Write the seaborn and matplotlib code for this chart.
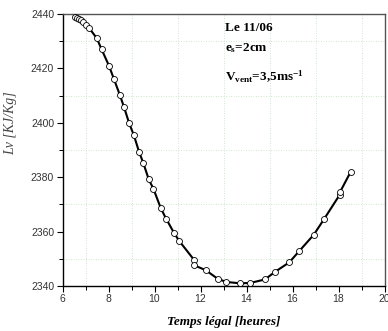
import numpy as np
import pandas as pd
import matplotlib
matplotlib.use("Agg")
import matplotlib.pyplot as plt
import seaborn as sns
from matplotlib.ticker import MultipleLocator

# Data
heures = [6.55, 6.62, 6.70, 6.79, 6.90, 7.02, 7.17, 7.49, 7.70, 8.02, 8.24, 8.49, 8.67,
          8.90, 9.10, 9.33, 9.51, 9.75, 9.95, 10.27, 10.50, 10.85, 11.08, 11.73, 11.73,
          12.23, 12.74, 13.11, 13.70, 14.15, 14.80, 15.24, 15.86, 16.30, 16.93, 17.38,
          18.05, 18.07, 18.53]
lv = [2438.9, 2438.6, 2438.2, 2437.7, 2436.9, 2436.0, 2434.7, 2431.1, 2427.0, 2421.0,
      2416.0, 2410.3, 2405.9, 2399.8, 2395.5, 2389.3, 2385.3, 2379.2, 2375.8, 2368.7,
      2364.8, 2359.5, 2356.5, 2349.5, 2347.6, 2345.8, 2342.7, 2341.5, 2341.0, 2341.1,
      2342.4, 2345.2, 2348.7, 2352.9, 2358.9, 2364.7, 2373.5, 2374.6, 2382.0]
x_ticks = [6, 8, 10, 12, 14, 16, 18, 20]
y_ticks = [2340, 2360, 2380, 2400, 2420, 2440]

df = pd.DataFrame({"heures": heures, "lv": lv})

sns.set_style("white")
plt.rcParams["mathtext.fontset"] = "custom"
plt.rcParams["mathtext.rm"] = "Liberation Serif:bold"
plt.rcParams["mathtext.bf"] = "Liberation Serif:bold"
plt.rcParams["mathtext.it"] = "Liberation Serif:bold"

fig = plt.figure(figsize=(3.88, 3.31), dpi=100)
ax = fig.add_axes([62.5/388, 1-286/331, 322/388, 272/331])

sns.lineplot(data=df, x="heures", y="lv", ax=ax, estimator=None, sort=False,
             color="black", lw=1.5, marker="o", markersize=4.3,
             markerfacecolor="white", markeredgecolor="black", markeredgewidth=0.6,
             zorder=3)

ax.set_xlim(6, 20)
ax.set_ylim(2340, 2440)
ax.set_xticks(x_ticks)
ax.set_yticks(y_ticks)
ax.xaxis.set_minor_locator(MultipleLocator(1))
ax.yaxis.set_minor_locator(MultipleLocator(10))
ax.grid(False)
ax.grid(which="minor", color="#c6e6c6", linestyle=(0, (1.2, 1.8)), lw=0.6)

ax.tick_params(which="major", direction="out", length=4, width=0.8, color="black",
               labelsize=7.5, labelcolor="#333333", pad=2,
               bottom=True, left=True, top=False, right=False)
ax.tick_params(which="minor", direction="out", length=3, width=0.7, color="black",
               bottom=True, left=True, top=False, right=False)
for lab in ax.get_xticklabels() + ax.get_yticklabels():
    lab.set_family("Liberation Sans")

for s in ["left", "bottom"]:
    ax.spines[s].set_color("black")
    ax.spines[s].set_linewidth(1.0)
for s in ["top", "right"]:
    ax.spines[s].set_color("#555555")
    ax.spines[s].set_linewidth(1.0)

ax.set_xlabel("Temps légal [heures]", family="Liberation Serif", style="italic",
              weight="bold", fontsize=9.5, color="black")
ax.set_ylabel("Lv [KJ/Kg]", family="Liberation Serif", style="italic",
              fontsize=10, color="#444444")
ax.xaxis.set_label_coords(0.5, -0.112)
ax.yaxis.set_label_coords(-0.14, 0.60)

tk = dict(family="Liberation Serif", weight="bold", fontsize=9.5, color="black",
          transform=ax.transAxes, ha="left", va="center")
ax.text(0.505, 0.95, "Le 11/06", **tk)
ax.text(0.505, 0.875, r"e$_{\mathrm{s}}$=2cm", **tk)
ax.text(0.505, 0.77, r"V$_{\mathrm{vent}}$=3,5ms$^{\mathrm{-1}}$", **tk)

fig.savefig("out.png", dpi=100)
